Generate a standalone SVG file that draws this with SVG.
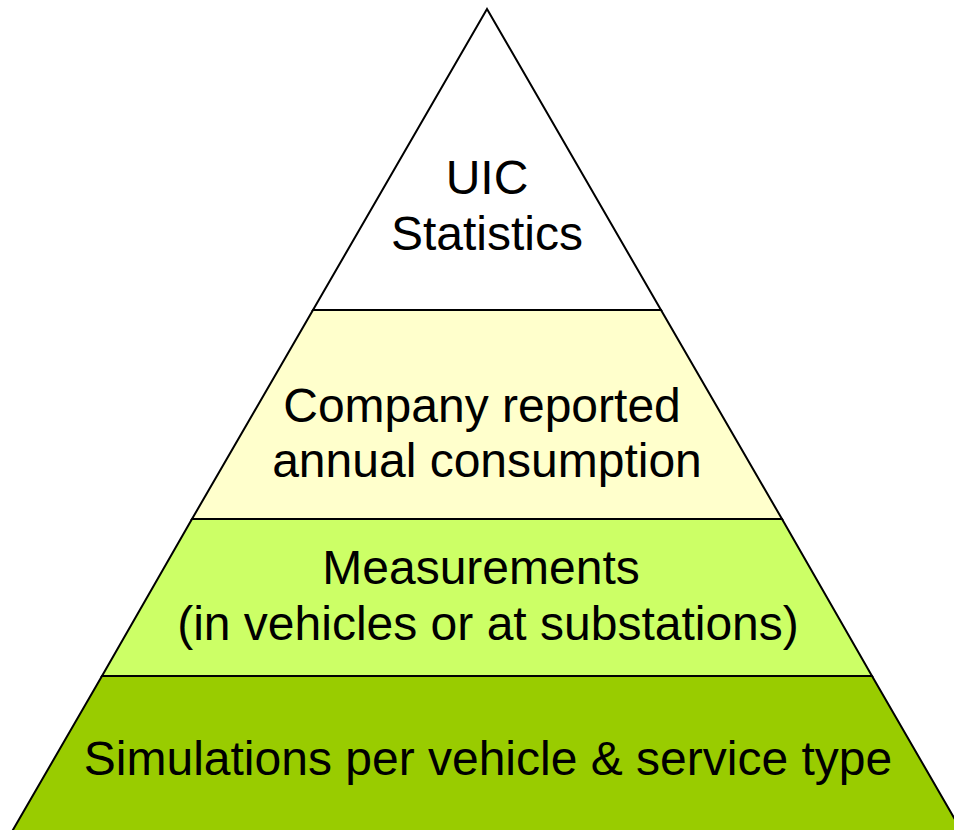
<svg xmlns="http://www.w3.org/2000/svg" width="954" height="830" viewBox="0 0 954 830">
  <style>
    .tier { stroke: #000; stroke-width: 2; stroke-linejoin: miter; }
    .label { font-family: "Liberation Sans", Arial, sans-serif; font-size: 48px; fill: #000; text-anchor: middle; }
  </style>
  <rect width="954" height="830" fill="#fff"/>
  <!-- pyramid tiers, apex at (487,9), sides at 60 degrees -->
  <g id="tier-uic">
    <polygon class="tier" fill="#ffffff" points="487,9 313,310 661,310"/>
    <text class="label" x="487" y="194">UIC</text>
    <text class="label" x="487" y="250">Statistics</text>
  </g>
  <g id="tier-company">
    <polygon class="tier" fill="#ffffcc" points="313,310 661,310 782,519 192,519"/>
    <text class="label" x="482" y="422">Company reported</text>
    <text class="label" x="487" y="477">annual consumption</text>
  </g>
  <g id="tier-measurements">
    <polygon class="tier" fill="#ccff66" points="192,519 782,519 872,676 102,676"/>
    <text class="label" x="481" y="584">Measurements</text>
    <text class="label" x="488" y="640">(in vehicles or at substations)</text>
  </g>
  <g id="tier-simulations">
    <polygon class="tier" fill="#99cc00" points="102,676 872,676 964,835 10,835"/>
    <text class="label" x="488" y="775">Simulations per vehicle &amp; service type</text>
  </g>
</svg>
